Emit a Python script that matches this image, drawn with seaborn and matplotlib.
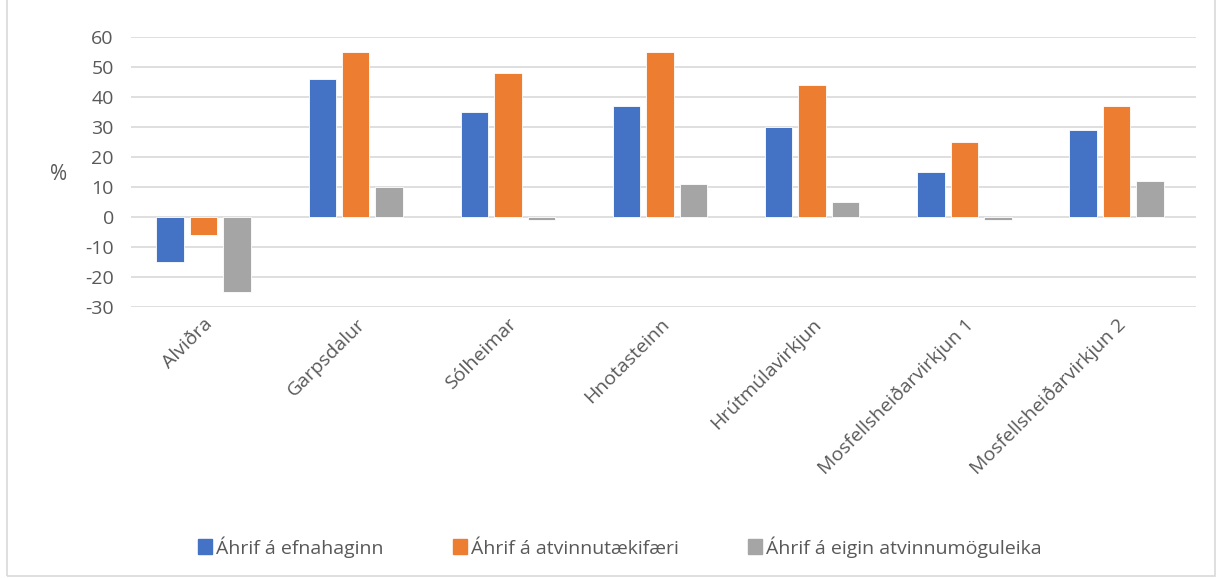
import matplotlib
matplotlib.use("Agg")
import matplotlib.pyplot as plt
import matplotlib.patches as mpatches
import seaborn as sns
import pandas as pd

# data
places = ["Alviðra", "Garpsdalur", "Sólheimar", "Hnotasteinn", "Hrútmúlavirkjun",
          "Mosfellsheiðarvirkjun 1", "Mosfellsheiðarvirkjun 2"]
series = ["Áhrif á efnahaginn", "Áhrif á atvinnutækifæri", "Áhrif á eigin atvinnumöguleika"]
efnahagur = [-15, 46, 35, 37, 30, 15, 29]
atvinnutaekifaeri = [-6, 55, 48, 55, 44, 25, 37]
eigin_moguleikar = [-25, 10, -1, 11, 5, -1, 12]
colors = ["#4472C4", "#ED7D31", "#A5A5A5"]
yticks = [-30, -20, -10, 0, 10, 20, 30, 40, 50, 60]

rows = []
for name, vals in zip(series, [efnahagur, atvinnutaekifaeri, eigin_moguleikar]):
    for p, v in zip(places, vals):
        rows.append({"place": p, "series": name, "value": v})
df = pd.DataFrame(rows)

sns.set_style("white")
plt.rcParams["font.family"] = ["Open Sans", "DejaVu Sans"]
plt.rcParams["axes.unicode_minus"] = False
txt = "#595959"

fig = plt.figure(figsize=(12.2, 5.78), dpi=100)
ax = fig.add_axes([0.107, 0.469, 0.873, 0.467])
sns.barplot(data=df, x="place", y="value", hue="series", order=places, hue_order=series,
            palette=colors, saturation=1, width=0.66, gap=0.18, errorbar=None, ax=ax,
            legend=False, edgecolor="white", linewidth=0.6, zorder=3)

ax.set_ylim(-30, 60)
ax.set_xlim(-0.48, 6.52)
ax.set_yticks(yticks)
ax.grid(axis="y", color="#D9D9D9", linewidth=1.2, zorder=0)
ax.set_axisbelow(True)
for s in ax.spines.values():
    s.set_visible(False)
ax.tick_params(axis="both", length=0, labelsize=14, colors=txt)
ax.tick_params(axis="y", pad=12)
ax.tick_params(axis="x", pad=6)
ax.set_xlabel("")
ax.set_ylabel("%", rotation=0, fontsize=15, color=txt)
ax.yaxis.set_label_coords(-0.068, 0.45)
plt.setp(ax.get_xticklabels(), rotation=45, ha="right", rotation_mode="anchor")

handles = [mpatches.Patch(color=c, label=s) for c, s in zip(colors, series)]
leg = fig.legend(handles=handles, loc="center", bbox_to_anchor=(0.508, 0.054), ncol=3,
                 frameon=False, fontsize=14, handlelength=0.7, handleheight=0.8,
                 handletextpad=0.2, columnspacing=3.6)
for t in leg.get_texts():
    t.set_color(txt)

fig.add_artist(mpatches.Rectangle((0.006, 0.004), 0.99, 1.2, transform=fig.transFigure,
                                  fill=False, edgecolor="#D9D9D9", linewidth=1.2))

fig.savefig("out.png", dpi=100)
